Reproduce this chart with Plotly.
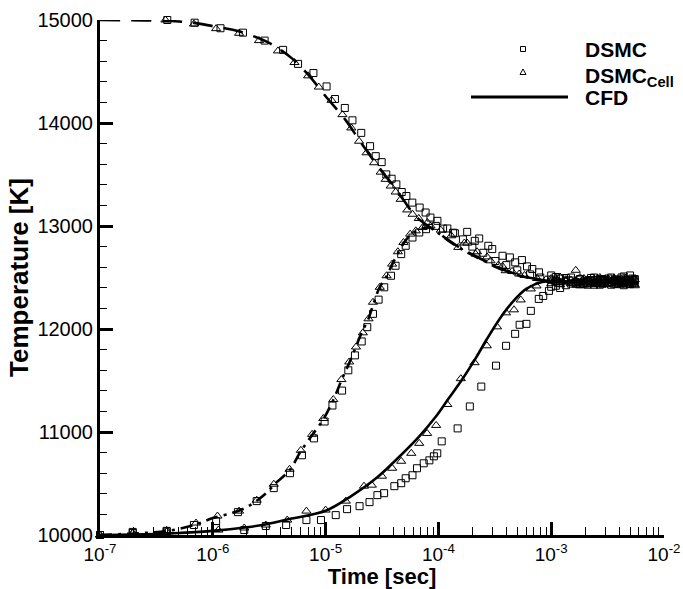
import plotly.graph_objects as go

# ---------------- CFD curves ----------------
cfd_tr_t = [1e-7, 3e-7, 5e-7, 7e-7, 1e-6, 1.5e-6, 2e-6, 3e-6, 4e-6, 5e-6, 7e-6, 1e-5,
            1.5e-5, 2e-5, 3e-5, 4e-5, 5e-5, 6e-5, 7e-5, 8.5e-5, 1e-4, 1.2e-4, 1.6e-4,
            2.5e-4, 3.5e-4, 5e-4, 7e-4, 1e-3, 1.5e-3, 2e-3, 5.5e-3]
cfd_tr_T = [15000, 14995, 14985, 14970, 14940, 14905, 14865, 14790, 14710, 14630, 14470, 14260,
            14030, 13830, 13560, 13390, 13240, 13120, 13050, 12985, 12935, 12870, 12780,
            12670, 12590, 12530, 12490, 12465, 12458, 12455, 12455]

cfd_rot_t = [1e-7, 2e-7, 4e-7, 7e-7, 1e-6, 1.5e-6, 2e-6, 2.5e-6, 3e-6, 3.5e-6, 4.8e-6, 6e-6,
             7.6e-6, 9.5e-6, 1.17e-5, 1.38e-5, 1.62e-5, 1.86e-5, 2.1e-5, 2.4e-5, 2.65e-5,
             3e-5, 3.5e-5, 3.9e-5, 4.4e-5, 4.9e-5, 5.6e-5, 6.3e-5, 7.2e-5, 8.5e-5, 1e-4,
             1.2e-4, 1.6e-4, 2.5e-4, 3.5e-4, 5e-4, 7e-4, 1e-3, 2e-3, 5.5e-3]
cfd_rot_T = [10000, 10015, 10040, 10100, 10165, 10215, 10270, 10340, 10410, 10490, 10630, 10810,
             10970, 11120, 11310, 11500, 11670, 11830, 11970, 12100, 12240,
             12400, 12520, 12630, 12740, 12830, 12910, 12950, 12975, 12985, 12930,
             12865, 12775, 12665, 12585, 12525, 12488, 12463, 12455, 12455]

cfd_vib_t = [1e-7, 3e-7, 5e-7, 1e-6, 2e-6, 3e-6, 5e-6, 1e-5, 1.7e-5, 2.8e-5, 4.5e-5, 6.8e-5,
             9.5e-5, 1.24e-4, 1.6e-4, 2.15e-4, 2.7e-4, 3.5e-4, 4.4e-4, 6e-4, 8.3e-4, 1.2e-3,
             2e-3, 5.5e-3]
cfd_vib_T = [10000, 10010, 10020, 10040, 10075, 10105, 10160, 10235, 10380, 10550, 10760, 10960,
             11150, 11330, 11500, 11720, 11905, 12100, 12245, 12390, 12456, 12462,
             12460, 12458]

# ---------------- equilibrium cluster times ----------------
eq_t = [1.0e-3, 1.1e-3, 1.2e-3, 1.35e-3, 1.5e-3, 1.65e-3, 1.8e-3, 1.95e-3, 2.1e-3, 2.25e-3,
        2.4e-3, 2.55e-3, 2.7e-3, 2.85e-3, 3.0e-3, 3.2e-3, 3.4e-3, 3.6e-3, 3.8e-3, 4.0e-3,
        4.2e-3, 4.4e-3, 4.6e-3, 4.8e-3, 5.0e-3, 5.25e-3, 5.5e-3]

# ---------------- DSMC (squares) ----------------
dsmc_tr_t = [3.95e-7, 6.9e-7, 1.17e-6, 1.85e-6, 2.88e-6, 4.2e-6, 5.7e-6, 7.8e-6, 1.02e-5,
             1.21e-5, 1.48e-5, 1.73e-5, 2.07e-5, 2.48e-5, 2.78e-5, 3.14e-5, 3.45e-5, 3.85e-5,
             4.24e-5, 4.73e-5, 5.2e-5, 5.87e-5, 6.82e-5, 7.7e-5, 8.5e-5, 9.8e-5, 1.2e-4,
             1.4e-4, 1.8e-4, 2.1e-4, 2.3e-4, 2.77e-4, 3.0e-4, 3.7e-4, 4.3e-4, 4.8e-4, 5.5e-4,
             6.1e-4, 6.8e-4, 7.8e-4]
dsmc_tr_T = [15000, 14974, 14920, 14877, 14800, 14710, 14574, 14485, 14355,
             14233, 14146, 14026, 13904, 13775, 13678, 13620, 13501, 13459,
             13404, 13330, 13291, 13227, 13179, 13131, 13082, 13050, 12976,
             12930, 12943, 12856, 12879, 12808, 12776, 12711, 12695, 12647, 12669,
             12608, 12582, 12550]
dsmc_tr_eq = [12520, 12505, 12490, 12470, 12500, 12455, 12480, 12440, 12470, 12495,
              12450, 12475, 12430, 12485, 12460, 12445, 12500, 12470, 12435, 12480,
              12455, 12510, 12440, 12470, 12520, 12450, 12475]

dsmc_rot_t = [1.0e-7, 1.95e-7, 3.9e-7, 6.8e-7, 1.07e-6, 1.67e-6, 2.45e-6, 3.47e-6, 4.83e-6,
              6.17e-6, 7.9e-6, 9.8e-6, 1.15e-5, 1.4e-5, 1.59e-5, 1.82e-5, 2.09e-5, 2.34e-5,
              2.63e-5, 2.95e-5, 3.31e-5, 3.8e-5, 4.17e-5, 4.68e-5, 5.13e-5, 5.89e-5, 6.76e-5,
              7.76e-5, 9.5e-5, 1.1e-4, 1.35e-4, 1.65e-4, 2.0e-4, 2.5e-4, 3.2e-4, 4.0e-4,
              5.0e-4, 6.5e-4, 8.0e-4]
dsmc_rot_T = [10000, 10030, 10040, 10097, 10135, 10222, 10329, 10455, 10600,
              10774, 10938, 11102, 11257, 11402, 11599, 11744, 11879, 12018,
              12147, 12285, 12405, 12517, 12614, 12727, 12808, 12888, 12937,
              12969, 13001, 12975, 12935, 12870, 12800, 12740, 12660, 12620,
              12570, 12530, 12500]
dsmc_rot_eq = [12480, 12465, 12450, 12495, 12470, 12440, 12485, 12460, 12430, 12475,
               12500, 12455, 12480, 12445, 12470, 12490, 12455, 12440, 12475, 12465,
               12500, 12450, 12480, 12460, 12435, 12470, 12485]

dsmc_vib_t = [1.0e-7, 1.95e-7, 3.9e-7, 1.07e-6, 1.9e-6, 2.95e-6, 4.47e-6, 6.76e-6, 9.1e-6,
              1.23e-5, 1.55e-5, 2.0e-5, 2.45e-5, 2.88e-5, 3.3e-5, 4.07e-5, 4.68e-5, 5.13e-5,
              5.89e-5, 6.46e-5, 7.41e-5, 8.32e-5, 9.12e-5, 9.77e-5, 1.07e-4, 1.48e-4, 1.9e-4,
              2.4e-4, 3.24e-4, 3.98e-4, 4.79e-4, 5.25e-4, 6.03e-4, 6.6e-4, 7.76e-4, 8.5e-4,
              9.55e-4]
dsmc_vib_T = [10000, 10020, 10035, 10068, 10048, 10087, 10097, 10145, 10145,
              10193, 10251, 10280, 10319, 10387, 10406, 10474, 10503, 10551,
              10580, 10648, 10696, 10725, 10764, 10793, 10909, 11035, 11248,
              11441, 11644, 11837, 11953, 12041, 12050, 12176, 12292, 12321,
              12370]
dsmc_vib_eq = [12410, 12420, 12398, 12425, 12440, 12450, 12435, 12460, 12445, 12465,
               12430, 12455, 12470, 12440, 12475, 12450, 12430, 12465, 12480, 12445,
               12460, 12425, 12470, 12455, 12440, 12490, 12460]

# ---------------- DSMC_Cell (triangles) ----------------
cell_tr_t = [3.8e-7, 6.8e-7, 1.07e-6, 1.71e-6, 2.57e-6, 3.78e-6, 5.3e-6, 7.0e-6, 8.7e-6,
             1.13e-5, 1.41e-5, 1.69e-5, 1.98e-5, 2.31e-5, 2.69e-5, 3.08e-5, 3.41e-5, 3.78e-5,
             4.18e-5, 4.63e-5, 5.3e-5, 5.9e-5, 6.7e-5, 8.0e-5, 1.5e-4, 1.8e-4, 2.14e-4,
             2.9e-4, 3.7e-4, 3.95e-4, 5.2e-4]
cell_tr_T = [15000, 14961, 14916, 14871, 14800, 14700, 14587, 14458, 14349,
             14220, 14081, 13952, 13823, 13711, 13614, 13523, 13453, 13388,
             13330, 13259, 13156, 13114, 13073, 13034, 12792, 12834, 12727,
             12662, 12608, 12566, 12534]
cell_tr_eq = [12490, 12480, 12505, 12460, 12475, 12570, 12450, 12490, 12465, 12430,
              12485, 12455, 12500, 12470, 12440, 12480, 12460, 12495, 12450, 12475,
              12435, 12490, 12465, 12445, 12480, 12460, 12420]

cell_rot_t = [1.0e-7, 1.95e-7, 3.9e-7, 7.1e-7, 1.1e-6, 1.71e-6, 2.45e-6, 3.47e-6, 4.79e-6,
              6.03e-6, 7.59e-6, 9.55e-6, 1.17e-5, 1.38e-5, 1.62e-5, 1.86e-5, 2.14e-5, 2.4e-5,
              2.63e-5, 3.02e-5, 3.47e-5, 3.89e-5, 4.37e-5, 4.9e-5, 5.62e-5, 6.3e-5, 7.24e-5,
              8.5e-5, 1.05e-4, 1.3e-4, 1.7e-4, 2.2e-4, 2.7e-4, 3.4e-4, 4.5e-4, 5.8e-4,
              7.5e-4, 9.0e-4]
cell_rot_T = [10000, 10020, 10045, 10116, 10184, 10232, 10338, 10493, 10638,
              10822, 10977, 11131, 11315, 11509, 11680, 11825, 11963, 12099,
              12260, 12405, 12517, 12630, 12750, 12840, 12921, 12953, 12985,
              13001, 12960, 12905, 12835, 12750, 12700, 12620, 12560, 12520,
              12490, 12480]
cell_rot_eq = [12470, 12495, 12455, 12480, 12440, 12465, 12500, 12430, 12475, 12460,
               12445, 12490, 12455, 12480, 12470, 12435, 12465, 12485, 12450, 12475,
               12445, 12460, 12495, 12440, 12470, 12455, 12480]

cell_vib_t = [1.0e-7, 1.95e-7, 3.9e-7, 1.12e-6, 1.9e-6, 2.95e-6, 4.57e-6, 6.76e-6, 1.0e-5,
              1.51e-5, 2.19e-5, 2.57e-5, 3.16e-5, 3.89e-5, 4.68e-5, 5.75e-5, 6.76e-5, 7.94e-5,
              9.55e-5, 1.2e-4, 1.58e-4, 2.09e-4, 2.69e-4, 3.31e-4, 3.98e-4, 4.68e-4, 5.37e-4,
              6.6e-4, 7.41e-4]
cell_vib_T = [10000, 10015, 10030, 10048, 10068, 10097, 10145, 10232, 10242,
              10329, 10474, 10484, 10571, 10648, 10716, 10793, 10890, 10986,
              11064, 11267, 11518, 11673, 11837, 12021, 12157, 12186, 12282,
              12389, 12418]
cell_vib_eq = [12440, 12455, 12430, 12465, 12445, 12470, 12420, 12460, 12480, 12440,
               12465, 12450, 12475, 12430, 12460, 12485, 12445, 12470, 12455, 12425,
               12480, 12460, 12440, 12475, 12450, 12465, 12430]

# ---------------- axis ticks ----------------
x_tickvals = [1e-7, 1e-6, 1e-5, 1e-4, 1e-3, 1e-2]
x_ticktext = ["10<sup>-7</sup>", "10<sup>-6</sup>", "10<sup>-5</sup>",
              "10<sup>-4</sup>", "10<sup>-3</sup>", "10<sup>-2</sup>"]
y_tickvals = [10000, 11000, 12000, 13000, 14000, 15000]
y_ticktext = ["10000", "11000", "12000", "13000", "14000", "15000"]

FONT = "Liberation Sans, Arial, sans-serif"

fig = go.Figure()

# CFD lines
fig.add_trace(go.Scatter(x=cfd_tr_t, y=cfd_tr_T, mode="lines",
                         line=dict(color="black", width=2.6, dash="20px,11px"),
                         line_shape="spline", showlegend=False))
fig.add_trace(go.Scatter(x=cfd_rot_t, y=cfd_rot_T, mode="lines",
                         line=dict(color="black", width=2.6, dash="12px,6px,3px,6px"),
                         line_shape="spline", showlegend=False))
fig.add_trace(go.Scatter(x=cfd_vib_t, y=cfd_vib_T, mode="lines",
                         line=dict(color="black", width=2.6),
                         line_shape="spline", showlegend=False))

sq = dict(symbol="square-open", size=7, color="black", line=dict(width=1, color="black"))
tri = dict(symbol="triangle-up-open", size=8, color="black", line=dict(width=1, color="black"))

for tt, TT, eq in [(dsmc_tr_t, dsmc_tr_T, dsmc_tr_eq),
                   (dsmc_rot_t, dsmc_rot_T, dsmc_rot_eq),
                   (dsmc_vib_t, dsmc_vib_T, dsmc_vib_eq)]:
    fig.add_trace(go.Scatter(x=tt + eq_t, y=TT + eq, mode="markers", marker=sq,
                             cliponaxis=False, showlegend=False))
for tt, TT, eq in [(cell_tr_t, cell_tr_T, cell_tr_eq),
                   (cell_rot_t, cell_rot_T, cell_rot_eq),
                   (cell_vib_t, cell_vib_T, cell_vib_eq)]:
    fig.add_trace(go.Scatter(x=tt + eq_t, y=TT + eq, mode="markers", marker=tri,
                             cliponaxis=False, showlegend=False))

# ---------------- custom legend (paper coords) ----------------
L, R, T, B = 100, 664, 20, 535
def px(x):
    return (x - L) / (R - L)
def py(y):
    return (B - y) / (B - T)

shapes = []
shapes.append(dict(type="rect", xref="paper", yref="paper",
                   x0=px(520.5), x1=px(525.5), y0=py(51.5), y1=py(46.5),
                   line=dict(color="black", width=1), fillcolor="rgba(0,0,0,0)"))
shapes.append(dict(type="path", xref="paper", yref="paper",
                   path="M {:.5f},{:.5f} L {:.5f},{:.5f} L {:.5f},{:.5f} Z".format(
                       px(520), py(74.5), px(526), py(74.5), px(523), py(69)),
                   line=dict(color="black", width=1)))
shapes.append(dict(type="line", xref="paper", yref="paper",
                   x0=px(471), x1=px(568), y0=py(97), y1=py(97),
                   line=dict(color="black", width=3)))

annotations = [
    dict(text="<b>DSMC</b>", x=px(583), y=py(49), xref="paper", yref="paper",
         xanchor="left", yanchor="middle", showarrow=False,
         font=dict(family=FONT, size=21, color="black")),
    dict(text="<b>DSMC<sub>Cell</sub></b>", x=px(583), y=py(77), xref="paper", yref="paper",
         xanchor="left", yanchor="middle", showarrow=False,
         font=dict(family=FONT, size=21, color="black")),
    dict(text="<b>CFD</b>", x=px(583), y=py(97), xref="paper", yref="paper",
         xanchor="left", yanchor="middle", showarrow=False,
         font=dict(family=FONT, size=21, color="black")),
]

fig.update_layout(
    width=683, height=589,
    margin=dict(l=100, r=19, t=20, b=54, pad=0, autoexpand=False),
    plot_bgcolor="white", paper_bgcolor="white",
    showlegend=False,
    font=dict(family=FONT, color="black"),
    shapes=shapes, annotations=annotations,
)

fig.update_xaxes(
    type="log", range=[-7, -2], automargin=False,
    tickvals=x_tickvals, ticktext=x_ticktext,
    tickfont=dict(family=FONT, size=19, color="black"),
    ticks="inside", ticklen=13, tickwidth=3, tickcolor="black",
    showline=True, linewidth=3, linecolor="black", mirror=False,
    showgrid=False, zeroline=False,
    minor=dict(ticks="inside", ticklen=8, tickwidth=1, tickcolor="black", dtick="D1", showgrid=False),
    title=dict(text="<b>Time [sec]</b>", font=dict(family=FONT, size=22, color="black"), standoff=6),
)
fig.update_yaxes(
    range=[10000, 15000], automargin=False,
    tickvals=y_tickvals, ticktext=y_ticktext,
    tickfont=dict(family=FONT, size=20, color="black"),
    ticks="inside", ticklen=13, tickwidth=3, tickcolor="black",
    showline=True, linewidth=3, linecolor="black", mirror=False,
    showgrid=False, zeroline=False,
    minor=dict(ticks="inside", ticklen=7, tickwidth=1, tickcolor="black", dtick=200, showgrid=False),
    title=dict(text="<b>Temperature [K]</b>", font=dict(family=FONT, size=26, color="black"), standoff=2),
)

fig.write_html("out.html")
